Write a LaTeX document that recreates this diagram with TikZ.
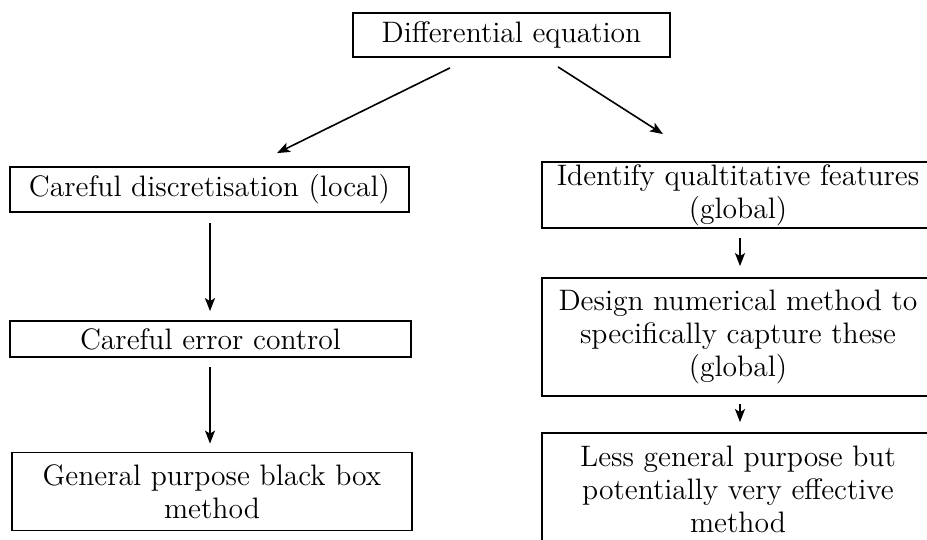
\documentclass[tikz,border=0pt]{standalone}
\usetikzlibrary{calc,arrows.meta}
\begin{document}
\begin{tikzpicture}[x=0.5pt,y=-0.5pt,
  box/.style={draw,line width=0.9pt,inner sep=0pt,align=center,
    font=\fontsize{14.8}{16.5}\selectfont},
  arr/.style={line width=0.8pt,-{Stealth[length=6.5pt,width=5pt,inset=1.5pt]}}]
\useasboundingbox (0,0) rectangle (927,540);
\node[box,minimum width=158.5pt,minimum height=22pt] (top) at (511.5,35) {Differential equation};
\node[box,minimum width=199.5pt,minimum height=22.5pt] (l1) at (209.5,189.5) {Careful discretisation (local)};
\node[box,minimum width=200.5pt,minimum height=18pt] (l2) at (210.5,339) {Careful error control};
\node[box,minimum width=200pt,minimum height=39pt] (l3) at (212,491.5) {General purpose black box\\method};
\node[box,minimum width=196pt,minimum height=33pt] (r1) at (738,195) {Identify qualtitative features\\(global)};
\node[box,minimum width=196pt,minimum height=59pt] (r2) at (738,337) {Design numerical method to\\specifically capture these\\(global)};
\node[box,minimum width=196pt,minimum height=56pt] (r3) at (738,489) {Less general purpose but\\potentially very effective\\method};
\draw[arr] ($(top.south)+(-61.5,10)$) -- ($(l1.north)+(67.5,-13)$);
\draw[arr] ($(top.south)+(46.5,9)$) -- ($(r1.north)+(-75,-27)$);
\draw[arr] ($(l1.south)+(0.5,10)$) -- ($(l2.north)+(-0.5,-9)$);
\draw[arr] ($(l2.south)+(-0.5,9)$) -- ($(l3.north)+(-2,-8)$);
\draw[arr] ($(r1.south)+(2,9)$) -- ($(r2.north)+(2,-11)$);
\draw[arr] ($(r2.south)+(2,7)$) -- ($(r3.north)+(2,-10)$);
\end{tikzpicture}
\end{document}
